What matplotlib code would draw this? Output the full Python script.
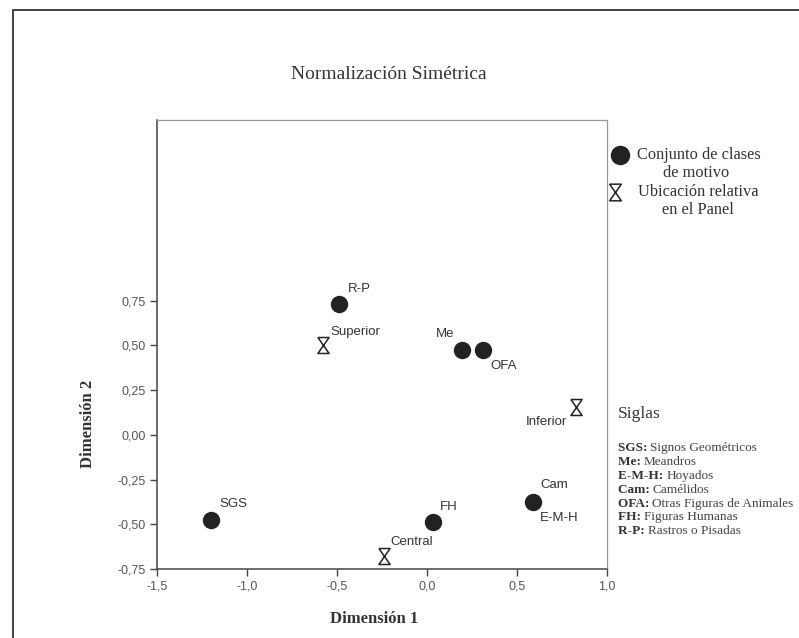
import matplotlib
matplotlib.use('Agg')
import matplotlib.pyplot as plt
from matplotlib.path import Path
from matplotlib.lines import Line2D

# conjunto de clases de motivo (circulos)
clases = ['R-P', 'Me', 'OFA', 'Cam', 'FH', 'SGS']
clases_x = [-0.49, 0.195, 0.31, 0.59, 0.035, -1.2]
clases_y = [0.73, 0.475, 0.475, -0.375, -0.49, -0.475]

# ubicacion relativa en el panel (relojes de arena)
panel = ['Superior', 'Inferior', 'Central']
panel_x = [-0.58, 0.83, -0.24]
panel_y = [0.50, 0.157, -0.675]

x_ticks = [-1.5, -1.0, -0.5, 0.0, 0.5, 1.0]
y_ticks = [-0.75, -0.50, -0.25, 0.00, 0.25, 0.50, 0.75]

siglas = [('SGS:', 'Signos Geométricos'),
          ('Me:', 'Meandros'),
          ('E-M-H:', 'Hoyados'),
          ('Cam:', 'Camélidos'),
          ('OFA:', 'Otras Figuras de Animales'),
          ('FH:', 'Figuras Humanas'),
          ('R-P:', 'Rastros o Pisadas')]

# offsets (pixels) of the point labels
lab_off = {'R-P': (9, 15, 'left'), 'Me': (-8, 16, 'right'), 'OFA': (8, -16, 'left'),
           'Cam': (7, 17, 'left'), 'FH': (7, 15, 'left'), 'SGS': (8, 16, 'left'),
           'E-M-H': (7, -16, 'left'),
           'Superior': (8, 13, 'left'), 'Inferior': (-9, -15, 'right'),
           'Central': (7, 14, 'left')}

hourglass = Path([(-0.35, 0.5), (0.35, 0.5), (-0.35, -0.5), (0.35, -0.5), (-0.35, 0.5)],
                 [Path.MOVETO, Path.LINETO, Path.LINETO, Path.LINETO, Path.LINETO])

serif = ['Liberation Serif', 'DejaVu Serif']
sans = ['Liberation Sans', 'DejaVu Sans']
ink = '#333333'

fig = plt.figure(figsize=(7.99, 6.38), dpi=100)
ax = fig.add_axes([0.1965, 0.1082, 0.5632, 0.7037])

ax.plot(clases_x, clases_y, 'o', ms=11.5, color='#222222', mec='#222222', clip_on=False)
ax.plot(panel_x, panel_y, ls='none', marker=hourglass, ms=11.5, mfc='none',
        mec='#222222', mew=1.1, clip_on=False)

lab_style = dict(textcoords='offset pixels', va='center', fontsize=9.5, family=sans,
                 color=ink)
for name, x, y in zip(clases, clases_x, clases_y):
    dx, dy, ha = lab_off[name]
    ax.annotate(name, (x, y), xytext=(dx, dy), ha=ha, **lab_style)
# Cam y E-M-H comparten el punto
dx, dy, ha = lab_off['E-M-H']
ax.annotate('E-M-H', (clases_x[3], clases_y[3]), xytext=(dx, dy), ha=ha, **lab_style)
for name, x, y in zip(panel, panel_x, panel_y):
    dx, dy, ha = lab_off[name]
    ax.annotate(name, (x, y), xytext=(dx, dy), ha=ha, **lab_style)

ax.set_xlim(-1.5, 1.0)
ax.set_ylim(-0.75, 1.76)
ax.set_xticks(x_ticks)
ax.set_xticklabels([('%.1f' % v).replace('.', ',') for v in x_ticks])
ax.set_yticks(y_ticks)
ax.set_yticklabels([('%.2f' % v).replace('.', ',') for v in y_ticks])
ax.tick_params(direction='out', length=5, width=1, color='#444444',
               labelsize=9, labelcolor='#555555', pad=3)
for lab in ax.get_xticklabels() + ax.get_yticklabels():
    lab.set_family(sans)

for s in ['left', 'bottom']:
    ax.spines[s].set_color('#444444')
    ax.spines[s].set_linewidth(1.1)
for s in ['top', 'right']:
    ax.spines[s].set_color('#999999')
    ax.spines[s].set_linewidth(0.9)

fig.text(0.468, 0.030, 'Dimensión 1', ha='center', va='center', fontsize=12,
         fontweight='bold', family=serif, color=ink)
fig.text(0.110, 0.336, 'Dimensión 2', ha='center', va='center', rotation=90, fontsize=12,
         fontweight='bold', family=serif, color=ink)

fig.text(0.486, 0.883, 'Normalización Simétrica', ha='center', va='center',
         fontsize=14, family=serif, color=ink)

# leyenda
leg_style = dict(fontsize=11.8, family=serif, color=ink, va='center')
fig.add_artist(Line2D([0.776], [0.757], marker='o', ms=13, color='#222222',
                      transform=fig.transFigure))
fig.text(0.797, 0.757, 'Conjunto de clases', ha='left', **leg_style)
fig.text(0.871, 0.729, 'de motivo', ha='center', **leg_style)
fig.add_artist(Line2D([0.770], [0.699], marker=hourglass, ms=12, mfc='none', mec='#222222',
                      mew=1.1, transform=fig.transFigure))
fig.text(0.798, 0.699, 'Ubicación relativa', ha='left', **leg_style)
fig.text(0.873, 0.671, 'en el Panel', ha='center', **leg_style)

# siglas
fig.text(0.773, 0.351, 'Siglas', ha='left', va='center', fontsize=12.5, family=serif,
         color=ink)
fig.canvas.draw()
renderer = fig.canvas.get_renderer()
y0 = 0.298
for i, (sig, desc) in enumerate(siglas):
    yy = y0 - i * 0.0218
    t = fig.text(0.773, yy, sig + ' ', ha='left', va='center', fontsize=9.5,
                 family=serif, fontweight='bold', color=ink)
    bb = t.get_window_extent(renderer=renderer)
    x1 = fig.transFigure.inverted().transform((bb.x1, bb.y0))[0]
    fig.text(x1, yy, desc, ha='left', va='center', fontsize=9.5,
             family=serif, color='#444444')

# marco exterior
fig.add_artist(Line2D([0.016, 0.016, 1.0], [0.0, 0.984, 0.984], color=ink, lw=1.3,
                      transform=fig.transFigure))

fig.savefig('out.png', dpi=100)
